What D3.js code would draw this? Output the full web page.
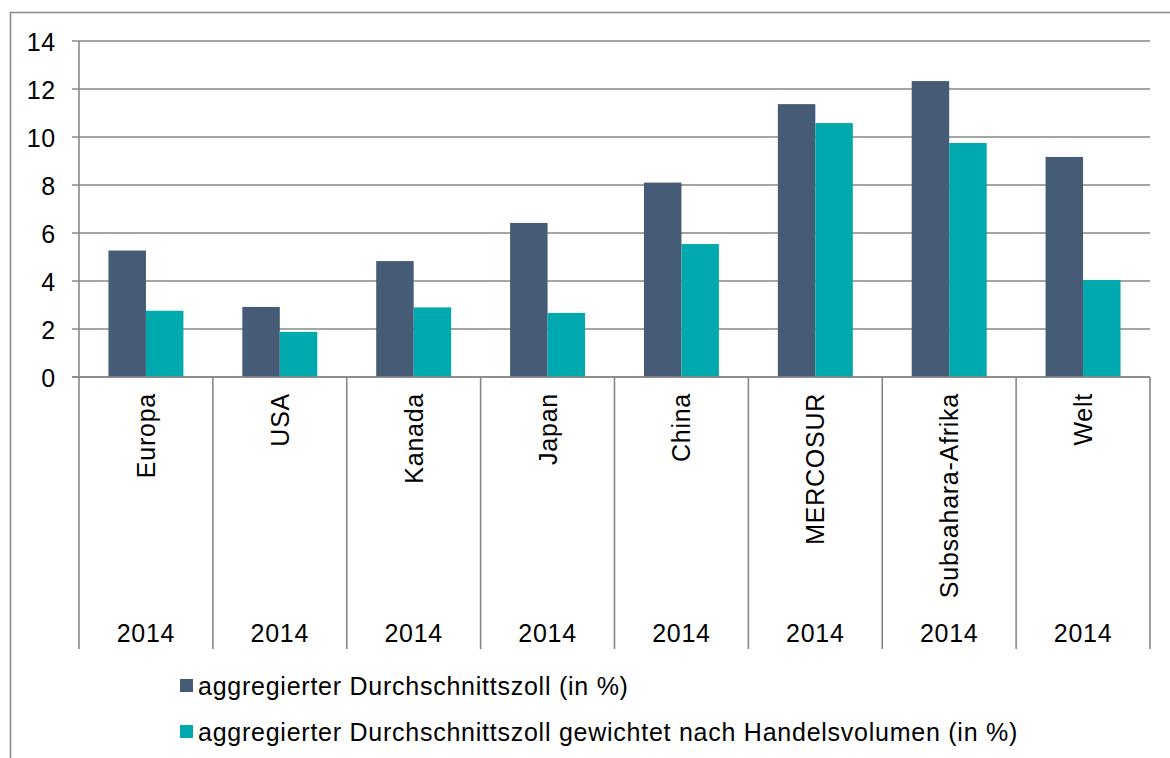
<!DOCTYPE html>
<html>
<head>
<meta charset="utf-8">
<script src="https://cdn.jsdelivr.net/npm/d3@7"></script>
<style>
  body { margin: 0; background: #fff; }
  svg { display: block; font-family: "Liberation Sans", Arial, sans-serif; }
  .grid line { stroke: #878787; stroke-width: 1.6; }
  .axis text { font-size: 25px; letter-spacing: 0.75px; fill: #000; }
</style>
</head>
<body>
<svg id="chart" width="1170" height="758"></svg>
<script>
// --- Data ---
var categories = ["Europa", "USA", "Kanada", "Japan", "China", "MERCOSUR", "Subsahara-Afrika", "Welt"];
var years = ["2014", "2014", "2014", "2014", "2014", "2014", "2014", "2014"];
var seriesNames = [
  "aggregierter Durchschnittszoll (in %)",
  "aggregierter Durchschnittszoll gewichtet nach Handelsvolumen (in %)"
];
var avgTariff = [5.27, 2.92, 4.83, 6.42, 8.1, 11.37, 12.33, 9.17];
var weightedTariff = [2.76, 1.88, 2.9, 2.67, 5.54, 10.58, 9.75, 4.04];
var yTicks = [0, 2, 4, 6, 8, 10, 12, 14];
var colors = ["#465b75", "#00a9ad"];

(function () {
  "use strict";

  var svg = d3.select("#chart");
  var left = 79, right = 1150, top = 41, bottom = 377;
  var lineColor = "#878787";

  // outer frame (open at right and bottom)
  svg.append("path")
    .attr("d", "M10.5,760 V12.5 H1172")
    .attr("fill", "none")
    .attr("stroke", "#8a8a8a")
    .attr("stroke-width", 1.6);

  var x = d3.scaleBand().domain(categories).range([left, right]).padding(0);
  var inner = d3.scaleBand().domain([0, 1])
    .range([x.bandwidth() * 0.22, x.bandwidth() * 0.78]).padding(0);
  var y = d3.scaleLinear().domain([0, 14]).range([bottom, top]);

  // gridlines
  svg.append("g")
    .attr("class", "grid")
    .selectAll("line")
    .data(yTicks)
    .enter().append("line")
    .attr("x1", left - 7).attr("x2", right)
    .attr("y1", function (d) { return y(d); })
    .attr("y2", function (d) { return y(d); });

  // y axis
  var yAxis = svg.append("g")
    .attr("class", "axis")
    .attr("transform", "translate(" + (left - 23) + ",0)")
    .call(d3.axisLeft(y).tickValues(yTicks).tickSize(0).tickPadding(0));
  yAxis.select(".domain").remove();
  yAxis.selectAll("text").attr("dy", "0.36em");

  // bars
  var series = [avgTariff, weightedTariff];
  series.forEach(function (vals, s) {
    svg.append("g")
      .selectAll("rect")
      .data(vals)
      .enter().append("rect")
      .attr("x", function (d, i) { return x(categories[i]) + inner(s); })
      .attr("width", inner.bandwidth())
      .attr("y", function (d) { return y(d); })
      .attr("height", function (d) { return y(0) - y(d); })
      .attr("fill", colors[s]);
  });

  // vertical axis line and category dividers
  var divX = [left].concat(categories.map(function (c) { return x(c) + x.bandwidth(); }));
  svg.append("g")
    .selectAll("line")
    .data(divX)
    .enter().append("line")
    .attr("x1", function (d) { return d; })
    .attr("x2", function (d) { return d; })
    .attr("y1", function (d, i) { return i === 0 ? top : bottom; })
    .attr("y2", 649)
    .attr("stroke", lineColor)
    .attr("stroke-width", 1.6);

  // baseline
  svg.append("line")
    .attr("x1", left - 7).attr("x2", right)
    .attr("y1", bottom).attr("y2", bottom)
    .attr("stroke", lineColor).attr("stroke-width", 1.6);

  // category labels (rotated)
  svg.append("g")
    .attr("class", "axis")
    .selectAll("text")
    .data(categories)
    .enter().append("text")
    .attr("transform", function (d) {
      return "translate(" + (x(d) + x.bandwidth() / 2) + ",393) rotate(-90)";
    })
    .attr("text-anchor", "end")
    .attr("dy", "0.36em")
    .text(function (d) { return d; });

  // year labels
  svg.append("g")
    .attr("class", "axis")
    .selectAll("text")
    .data(years)
    .enter().append("text")
    .attr("x", function (d, i) { return x(categories[i]) + x.bandwidth() / 2; })
    .attr("y", 633)
    .attr("dy", "0.36em")
    .attr("text-anchor", "middle")
    .text(function (d) { return d; });

  // legend
  var legend = svg.append("g").attr("class", "axis");
  seriesNames.forEach(function (name, i) {
    var ly = 686 + i * 46;
    legend.append("rect")
      .attr("x", 180).attr("y", ly - 7)
      .attr("width", 13).attr("height", 13)
      .attr("fill", colors[i]);
    legend.append("text")
      .attr("x", 198).attr("y", ly)
      .attr("dy", "0.36em")
      .text(name);
  });
})();
</script>
</body>
</html>
